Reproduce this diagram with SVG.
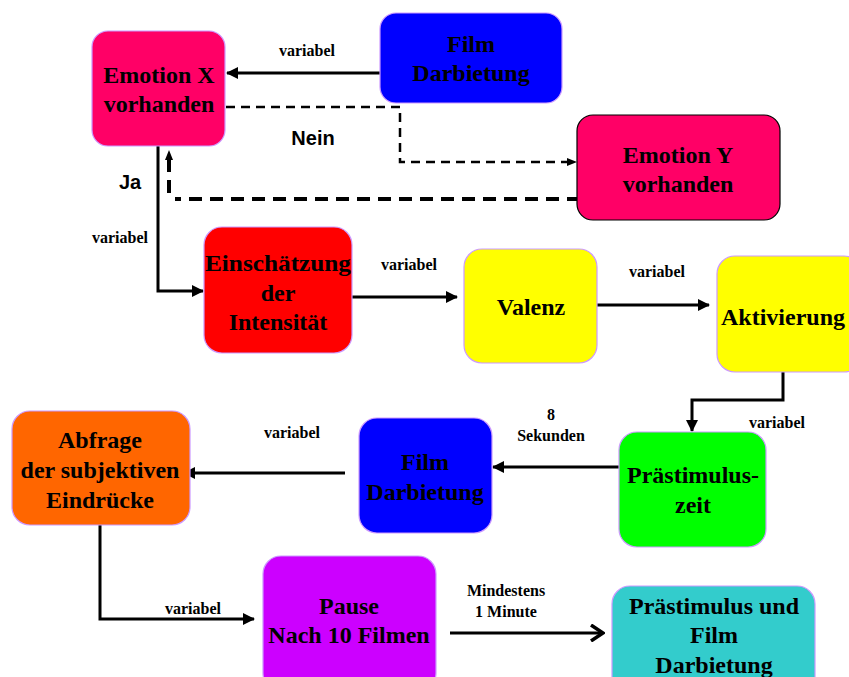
<svg xmlns="http://www.w3.org/2000/svg" width="849" height="677" viewBox="0 0 849 677">
<style>
.box{stroke:#cc99ff;stroke-width:1.2}
.t{font-family:"Liberation Serif","Times New Roman",serif;font-weight:bold;font-size:24px;text-anchor:middle;fill:#000}
.s{font-family:"Liberation Serif","Times New Roman",serif;font-weight:bold;font-size:16px;text-anchor:middle;fill:#000}
.a{font-family:"Liberation Sans",Arial,sans-serif;font-weight:bold;font-size:20px;text-anchor:middle;fill:#000}
.c{fill:none;stroke:#000;stroke-width:3}
</style>
<defs>
<marker id="ah" markerUnits="userSpaceOnUse" markerWidth="12" markerHeight="12" refX="11" refY="6" orient="auto">
<path d="M0,0 L12,6 L0,12 Z" fill="#000"/>
</marker>
<marker id="ahs" markerUnits="userSpaceOnUse" markerWidth="10" markerHeight="10" refX="9" refY="5" orient="auto">
<path d="M0,1 L10,5 L0,9 Z" fill="#000"/>
</marker>
<marker id="chev" markerUnits="userSpaceOnUse" markerWidth="16" markerHeight="18" refX="14" refY="9" orient="auto">
<path d="M2,1 L14,9 L2,17" fill="none" stroke="#000" stroke-width="3.5"/>
</marker>
</defs>

<g id="connectors">
<path class="c" d="M380,73 H227" marker-end="url(#ah)"/>
<path d="M226,107 H400 V162 H576" fill="none" stroke="#000" stroke-width="2.5" stroke-dasharray="9,6" marker-end="url(#ahs)"/>
<path d="M580,199 H175" fill="none" stroke="#000" stroke-width="4" stroke-dasharray="13,8"/>
<path d="M169,193 V151" fill="none" stroke="#000" stroke-width="4" stroke-dasharray="13,8" marker-end="url(#ahs)"/>
<path class="c" d="M158,146 V291 H203" marker-end="url(#ah)"/>
<path class="c" d="M352,297 H457" marker-end="url(#ah)"/>
<path class="c" d="M597,305 H709" marker-end="url(#ah)"/>
<path class="c" d="M783,372 V400 H692 V431" marker-end="url(#ah)"/>
<path class="c" d="M619,467 H493" marker-end="url(#ah)"/>
<path class="c" d="M345,473 H184" marker-end="url(#ah)"/>
<path class="c" d="M100,525 V619 H254" marker-end="url(#ah)"/>
<path class="c" d="M450,633 H603" marker-end="url(#chev)"/>
<text class="s" x="307" y="56">variabel</text>
<text class="a" x="313" y="145">Nein</text>
<text class="a" x="130" y="189">Ja</text>
<text class="s" x="120" y="243">variabel</text>
<text class="s" x="409" y="270">variabel</text>
<text class="s" x="657" y="277">variabel</text>
<text class="s" x="777" y="428">variabel</text>
<text class="s" x="551" y="420">8</text>
<text class="s" x="551" y="441">Sekunden</text>
<text class="s" x="292" y="438">variabel</text>
<text class="s" x="193" y="614">variabel</text>
<text class="s" x="506" y="596">Mindestens</text>
<text class="s" x="506" y="617">1 Minute</text>
</g>

<g id="emotionX">
<rect class="box" x="92" y="31" width="133" height="115" rx="16" fill="#FF0066"/>
<text class="t" x="159" y="83">Emotion X</text>
<text class="t" x="159" y="112">vorhanden</text>
</g>

<g id="film1">
<rect class="box" x="380" y="13" width="182" height="90" rx="16" fill="#0000FF"/>
<text class="t" x="471" y="52">Film</text>
<text class="t" x="471" y="81">Darbietung</text>
</g>

<g id="emotionY">
<rect x="577" y="115" width="203" height="105" rx="16" fill="#FF0066" stroke="#000" stroke-width="1.2"/>
<text class="t" x="678" y="163">Emotion Y</text>
<text class="t" x="678" y="192">vorhanden</text>
</g>

<g id="einschaetzung">
<rect class="box" x="204" y="227" width="148" height="126" rx="18" fill="#FF0000"/>
<text class="t" x="278" y="271" textLength="146" lengthAdjust="spacingAndGlyphs">Einschätzung</text>
<text class="t" x="278" y="301">der</text>
<text class="t" x="278" y="330">Intensität</text>
</g>

<g id="valenz">
<rect class="box" x="464" y="249" width="133" height="114" rx="18" fill="#FFFF00"/>
<text class="t" x="531" y="315">Valenz</text>
</g>

<g id="aktivierung">
<rect class="box" x="717" y="256" width="145" height="116" rx="18" fill="#FFFF00"/>
<text class="t" x="783" y="325">Aktivierung</text>
</g>

<g id="praestimulus">
<rect class="box" x="619" y="432" width="147" height="115" rx="18" fill="#00FF00"/>
<text class="t" x="693" y="483">Prästimulus-</text>
<text class="t" x="693" y="513">zeit</text>
</g>

<g id="film2">
<rect class="box" x="359" y="418" width="133" height="115" rx="18" fill="#0000FF"/>
<text class="t" x="425" y="470">Film</text>
<text class="t" x="425" y="500">Darbietung</text>
</g>

<g id="abfrage">
<rect class="box" x="12" y="411" width="178" height="114" rx="18" fill="#FF6600"/>
<text class="t" x="100" y="448">Abfrage</text>
<text class="t" x="100" y="478">der subjektiven</text>
<text class="t" x="100" y="508">Eindrücke</text>
</g>

<g id="pause">
<rect class="box" x="263" y="556" width="173" height="135" rx="18" fill="#CC00FF"/>
<text class="t" x="349" y="614">Pause</text>
<text class="t" x="349" y="643">Nach 10 Filmen</text>
</g>

<g id="praestimulusFilm">
<rect class="box" x="612" y="586" width="203" height="110" rx="18" fill="#33CCCC"/>
<text class="t" x="714" y="614">Prästimulus und</text>
<text class="t" x="714" y="643">Film</text>
<text class="t" x="714" y="673">Darbietung</text>
</g>
</svg>
